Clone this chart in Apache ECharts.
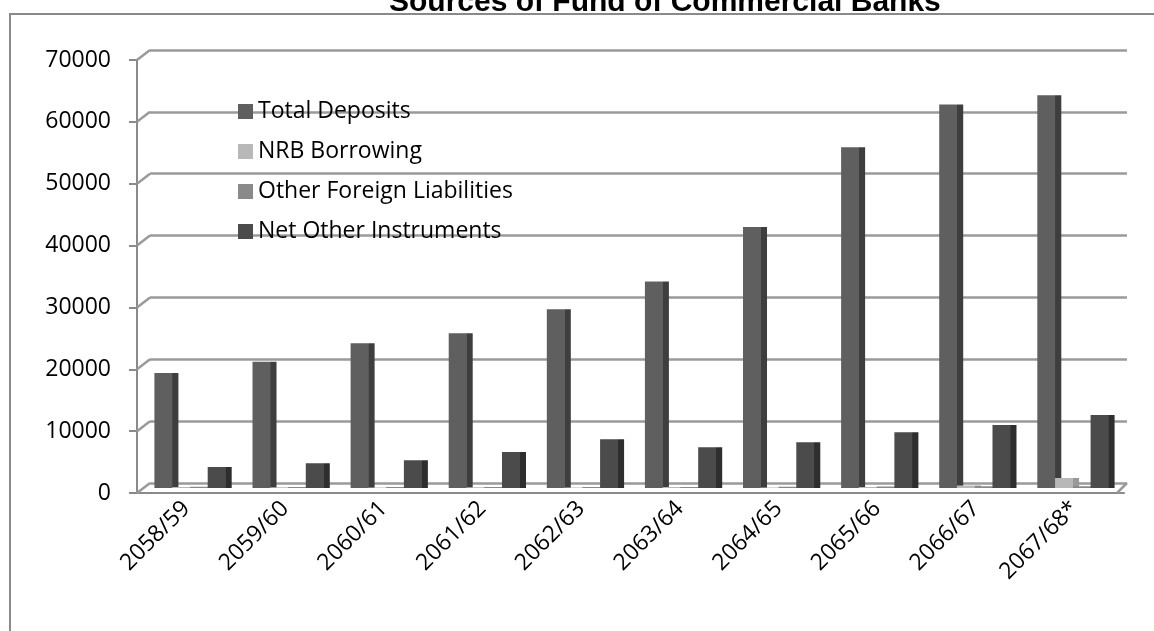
<!DOCTYPE html>
<html><head><meta charset="utf-8">
<script src="https://cdn.jsdelivr.net/npm/echarts@6/dist/echarts.min.js"></script>
<style>html,body{margin:0;padding:0;background:#fff}#c{width:1154px;height:631px}</style>
</head><body><div id="c"></div>
<script>
var categories = ['2058/59','2059/60','2060/61','2061/62','2062/63','2063/64','2064/65','2065/66','2066/67','2067/68*'];
var totalDeposits = [18600, 20400, 23400, 25000, 28900, 33400, 42200, 55100, 62000, 63500];
var nrbBorrowing = [150, 120, 100, 120, 100, 150, 100, 150, 400, 1600];
var otherForeignLiabilities = [200, 180, 160, 150, 160, 180, 200, 250, 300, 300];
var netOtherInstruments = [3400, 4000, 4500, 5800, 7900, 6600, 7400, 9000, 10200, 11800];
var seriesNames = ['Total Deposits','NRB Borrowing','Other Foreign Liabilities','Net Other Instruments'];
var yTicks = [0, 10000, 20000, 30000, 40000, 50000, 60000, 70000];

var FONT = 'Open Sans';
function shade(a, b) {
  return new echarts.graphic.LinearGradient(0, 0, 1, 0, [
    {offset: 0, color: a}, {offset: 0.74, color: a},
    {offset: 0.76, color: b}, {offset: 1, color: b}
  ]);
}
var flat = ['#5f5f5f', '#b8b8b8', '#8a8a8a', '#4b4b4b'];
var dark = ['#3e3e3e', '#999999', '#6a6a6a', '#2e2e2e'];
var dataSets = [totalDeposits, nrbBorrowing, otherForeignLiabilities, netOtherInstruments];

var chart = echarts.init(document.getElementById('c'));
var option = {
  animation: false,
  backgroundColor: '#fff',
  title: {
    text: 'Sources of Fund of Commercial Banks',
    left: 384, top: -17,
    textStyle: {fontFamily: 'Liberation Sans', fontWeight: 'bold', fontSize: 30, color: '#000'}
  },
  graphic: [{
    type: 'rect', shape: {x: 10, y: 14, width: 1200, height: 700},
    style: {fill: 'none', stroke: '#8a8a8a', lineWidth: 2}, z: 0
  }],
  legend: {
    orient: 'vertical', left: 233, top: 95,
    itemWidth: 15, itemHeight: 15, itemGap: 17,
    icon: 'rect',
    textStyle: {fontFamily: FONT, fontSize: 23, color: '#000'},
    data: seriesNames.map(function (n, i) { return {name: n, itemStyle: {color: flat[i]}}; })
  },
  grid: [
    {left: 137, right: 30, top: 60, bottom: 138},
    {left: 150, right: 27, top: 50, bottom: 148},
    {left: 144, right: 29, top: 55, bottom: 143}
  ],
  xAxis: [
    {gridIndex: 0, type: 'category', data: categories,
     axisLine: {lineStyle: {color: '#8a8a8a', width: 2}},
     axisTick: {length: 6, lineStyle: {color: '#8a8a8a', width: 2}},
     axisLabel: {rotate: 45, fontFamily: FONT, fontSize: 23, color: '#000', margin: 12, interval: 0}},
    {gridIndex: 1, type: 'category', data: categories, show: false},
    {gridIndex: 2, type: 'category', data: categories, show: false}
  ],
  yAxis: [
    {gridIndex: 0, type: 'value', min: 0, max: 70000, interval: 10000,
     axisLine: {show: true, lineStyle: {color: '#8a8a8a', width: 2}},
     axisTick: {show: true, length: 8, lineStyle: {color: '#8a8a8a', width: 2}},
     splitLine: {show: false},
     axisLabel: {fontFamily: FONT, fontSize: 23, color: '#000', margin: 26,
       formatter: function (v) { return yTicks.indexOf(v) >= 0 ? String(v) : ''; }}},
    {gridIndex: 1, type: 'value', min: 0, max: 70000, interval: 10000,
     axisLine: {show: false}, axisTick: {show: false}, axisLabel: {show: false},
     splitLine: {show: true, lineStyle: {color: '#9a9a9a', width: 2.5}}},
    {gridIndex: 2, type: 'value', min: 0, max: 70000, interval: 10000, show: false,
     splitLine: {show: false}}
  ],
  series: seriesNames.map(function (n, i) {
    return {
      name: n, type: 'bar', xAxisIndex: 2, yAxisIndex: 2,
      data: dataSets[i], barWidth: 24, barGap: '-26%',
      itemStyle: {color: shade(flat[i], dark[i])}, z: 3
    };
  })
};
chart.setOption(option);

// side-wall slants connecting front axis ticks to back-wall gridlines (positions from the axes' scales)
var slants = [];
yTicks.forEach(function (v) {
  var yf = chart.convertToPixel({yAxisIndex: 0}, v);
  var yb = chart.convertToPixel({yAxisIndex: 1}, v);
  var xf = chart.convertToPixel({gridIndex: 0}, [0, v]);
  slants.push({type: 'line', shape: {x1: 137, y1: yf, x2: 150, y2: yb},
    style: {stroke: '#9a9a9a', lineWidth: 2.5}, z: 1});
});
var y0f = chart.convertToPixel({yAxisIndex: 0}, 0);
var y0b = chart.convertToPixel({yAxisIndex: 1}, 0);
slants.push({type: 'line', shape: {x1: 1117, y1: y0f, x2: 1127, y2: y0b},
  style: {stroke: '#9a9a9a', lineWidth: 2.5}, z: 1});
chart.setOption({graphic: option.graphic.concat(slants)});
</script></body></html>
